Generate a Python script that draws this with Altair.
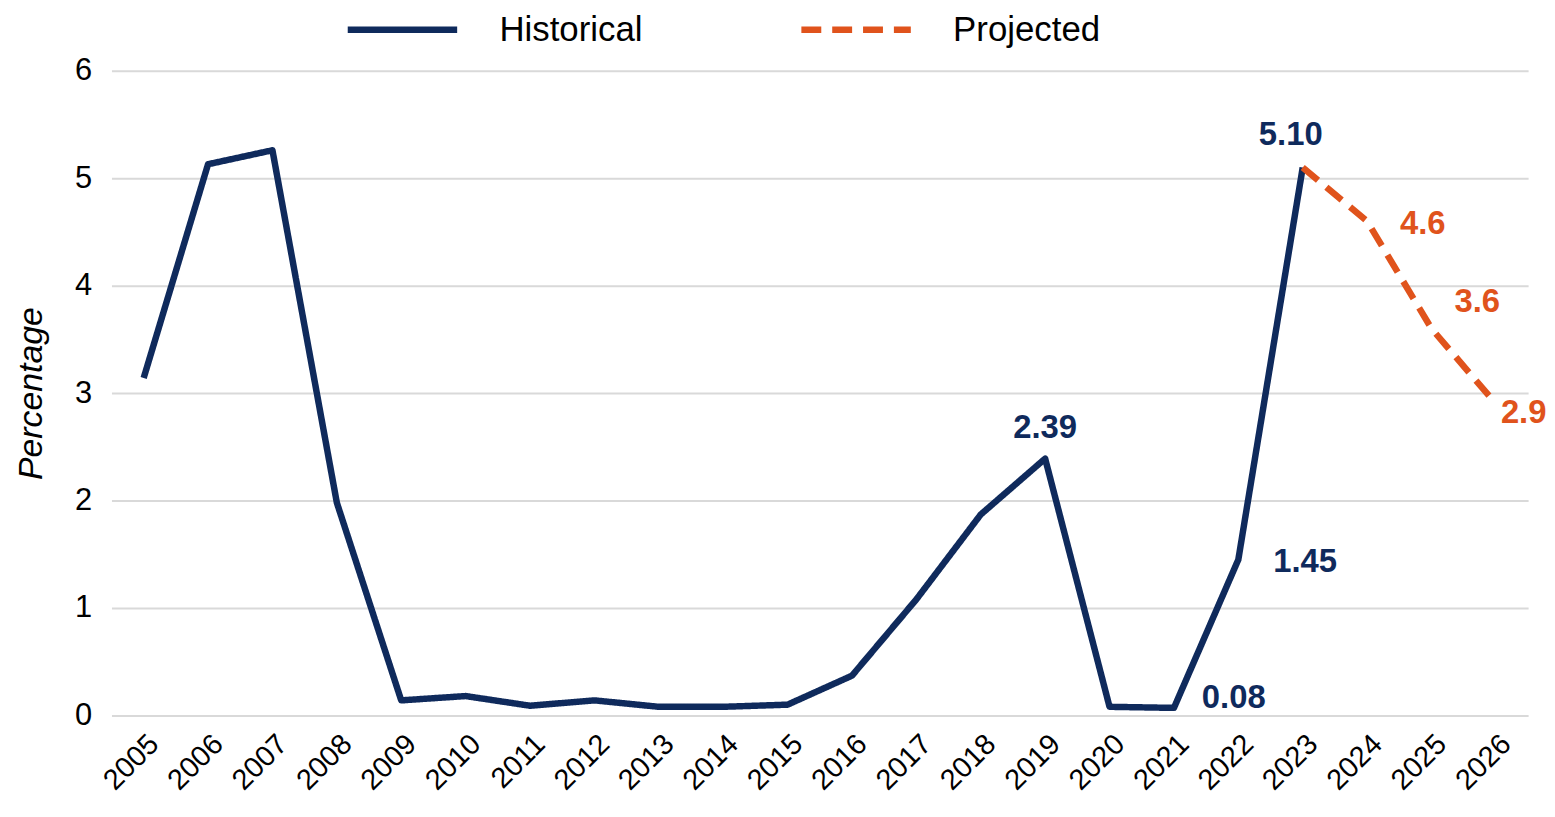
import altair as alt
import pandas as pd

hist_years = list(range(2005, 2024))
hist_values = [3.14, 5.13, 5.26, 1.98, 0.14, 0.18, 0.09, 0.14, 0.08, 0.08, 0.10,
               0.37, 1.08, 1.87, 2.39, 0.08, 0.07, 1.45, 5.10]
proj_years = [2023, 2024, 2025, 2026]
proj_values = [5.10, 4.6, 3.6, 2.9]

label_years = [2023, 2019, 2022, 2021, 2024, 2025, 2026]
label_values = [5.10, 2.39, 1.45, 0.07, 4.6, 3.6, 2.9]
label_texts = ["5.10", "2.39", "1.45", "0.08", "4.6", "3.6", "2.9"]
label_series = ["Historical", "Historical", "Historical", "Historical",
                "Projected", "Projected", "Projected"]

NAVY = "#0f2a5c"
ORANGE = "#e0531c"
FONT = "Liberation Sans"

rows = [{"year": str(y), "value": v, "series": "Historical"} for y, v in zip(hist_years, hist_values)]
rows += [{"year": str(y), "value": v, "series": "Projected"} for y, v in zip(proj_years, proj_values)]
df = pd.DataFrame(rows)

lab = pd.DataFrame({"year": [str(y) for y in label_years], "value": label_values,
                    "text": label_texts, "series": label_series})

all_years = [str(y) for y in range(2005, 2027)]
series_domain = ["Historical", "Projected"]

x_enc = alt.X("year:O", scale=alt.Scale(type="point", padding=0.5, domain=all_years),
              axis=alt.Axis(title=None, labelAngle=315, labelFontSize=29, labelFont=FONT,
                            labelColor="#000000", ticks=False, domain=False, labelPadding=14,
                            grid=False))
y_enc = alt.Y("value:Q", scale=alt.Scale(domain=[0, 6], nice=False),
              axis=alt.Axis(title="Percentage", titleFontStyle="italic", titleFontWeight="normal",
                            titleFontSize=34, titleFont=FONT, titleColor="#000000",
                            values=[0, 1, 2, 3, 4, 5, 6], format="d", labelFontSize=31,
                            labelFont=FONT, labelColor="#000000", ticks=False, domain=False,
                            labelPadding=20, titlePadding=26, gridColor="#d9d9d9", gridWidth=2))

legend_cfg = dict(title=None, orient="none", legendX=234, legendY=-100,
                  direction="horizontal", symbolType="stroke",
                  symbolSize=12100, symbolStrokeWidth=6.5,
                  labelFontSize=35, labelFont=FONT, labelColor="#000000", labelLimit=400,
                  labelOffset=39, columnPadding=146)

lines = alt.Chart(df).mark_line(strokeWidth=6.5, strokeJoin="round", strokeCap="butt").encode(
    x=x_enc,
    y=y_enc,
    color=alt.Color("series:N",
                    scale=alt.Scale(domain=series_domain, range=[NAVY, ORANGE]),
                    legend=alt.Legend(**legend_cfg)),
    strokeDash=alt.StrokeDash("series:N",
                              scale=alt.Scale(domain=series_domain, range=[[1, 0], [20, 11]]),
                              legend=alt.Legend(**legend_cfg)),
    detail="series:N",
)

offsets = {
    "5.10": (-12, -33, "center"),
    "2.39": (0, -31, "center"),
    "1.45": (35, 2, "left"),
    "0.08": (28, -10, "left"),
    "4.6": (33, 3, "left"),
    "3.6": (23, -27, "left"),
    "2.9": (5, 9, "left"),
}

layers = [lines]
for t, (dx, dy, al) in offsets.items():
    layers.append(
        alt.Chart(lab).transform_filter(alt.datum.text == t).mark_text(
            fontSize=33, fontWeight="bold", font=FONT, dx=dx, dy=dy, align=al, baseline="middle"
        ).encode(
            x=alt.X("year:O", scale=alt.Scale(type="point", padding=0.5, domain=all_years)),
            y=alt.Y("value:Q"),
            text="text:N",
            color=alt.Color("series:N",
                            scale=alt.Scale(domain=series_domain, range=[NAVY, ORANGE]),
                            legend=None),
        )
    )

chart = alt.layer(*layers).properties(
    width=1424, height=648,
    autosize=alt.AutoSizeParams(type="none"),
    padding={"left": 104, "top": 61, "right": 19, "bottom": 92},
).configure(background="#ffffff").configure_view(stroke=None)

chart.save("out.html", embed_options={"renderer": "svg", "actions": False})
